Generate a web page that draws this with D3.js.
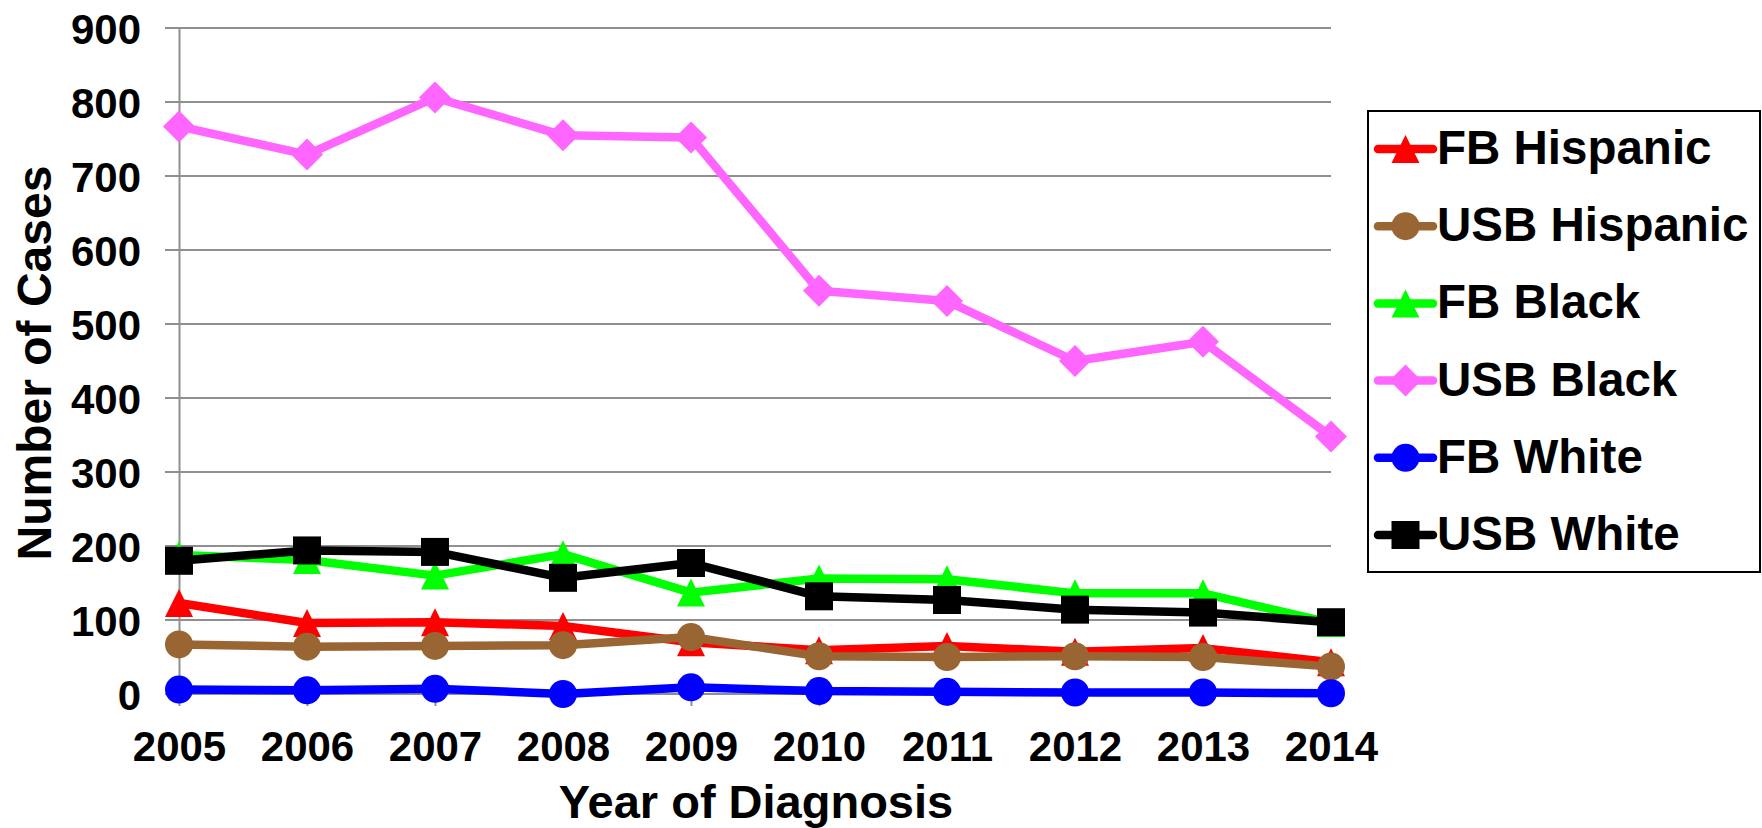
<!DOCTYPE html>
<html>
<head>
<meta charset="utf-8">
<script src="https://cdn.jsdelivr.net/npm/d3@7"></script>
<style>
  html, body { margin: 0; padding: 0; background: #fff; }
  svg { display: block; }
  text { font-family: "Liberation Sans", Arial, sans-serif; font-weight: bold; fill: #000; }
</style>
</head>
<body>
<svg id="chart" width="1762" height="828"></svg>
<script>
const years = ["2005","2006","2007","2008","2009","2010","2011","2012","2013","2014"];
const yTicks = [0,100,200,300,400,500,600,700,800,900];

const seriesNames = ["FB Hispanic","USB Hispanic","FB Black","USB Black","FB White","USB White"];
const fbHispanic  = [123, 96, 97, 92, 70, 59, 65, 57, 62, 43];
const usbHispanic = [67, 64, 65, 66, 77, 51, 50, 51, 50, 37];
const fbBlack     = [188, 181, 160, 189, 137, 156, 155, 136, 136, 96];
const usbBlack    = [767, 729, 806, 755, 752, 545, 531, 450, 476, 348];
const fbWhite     = [6, 5, 7, 0, 9, 4, 3, 2, 2, 1];
const usbWhite    = [180, 194, 192, 157, 177, 132, 127, 114, 110, 97];
const seriesValues = [fbHispanic, usbHispanic, fbBlack, usbBlack, fbWhite, usbWhite];
const seriesColors = ["#FF0000","#996633","#00FF00","#FF66FF","#0000FF","#000000"];
const seriesMarkers = ["triangle","circle","triangle","diamond","circle","square"];

const svg = d3.select("#chart");

const x = d3.scalePoint().domain(years).range([179, 1331]);
const y = d3.scaleLinear().domain([0, 900]).range([694, 28]);

// gridlines
svg.append("g").selectAll("line").data(yTicks).join("line")
  .attr("x1", 165).attr("x2", x(years[years.length-1]))
  .attr("y1", d => y(d)).attr("y2", d => y(d))
  .attr("stroke", "#8f8f8f").attr("stroke-width", 2);

// y axis
const yAxis = d3.axisLeft(y).tickValues(yTicks).tickSize(0).tickPadding(38);
const gy = svg.append("g").attr("transform", "translate(179,0)").call(yAxis);
gy.select(".domain").attr("stroke", "#8f8f8f").attr("stroke-width", 2);
gy.selectAll("text").style("font-size", "42px").attr("dy", "0.36em");

// x axis
const xAxis = d3.axisBottom(x).tickSize(12).tickPadding(25);
const gx = svg.append("g").attr("transform", "translate(0,694)").call(xAxis);
gx.select(".domain").remove();
gx.selectAll(".tick line").attr("stroke", "#8f8f8f").attr("stroke-width", 2);
gx.selectAll("text").style("font-size", "42px").attr("dy", "0.71em");

// axis titles
svg.append("text").attr("x", 756).attr("y", 818)
  .attr("text-anchor", "middle").style("font-size", "47px").text("Year of Diagnosis");
svg.append("text").attr("transform", "translate(51,363) rotate(-90)")
  .attr("text-anchor", "middle").style("font-size", "48px").text("Number of Cases");

function markerPath(type) {
  const s = 28;
  if (type === "triangle") return `M0,${-s/2}L${s/2},${s/2}L${-s/2},${s/2}Z`;
  if (type === "square") return `M${-s/2},${-s/2}H${s/2}V${s/2}H${-s/2}Z`;
  if (type === "diamond") { const d = 16; return `M0,${-d}L${d},0L0,${d}L${-d},0Z`; }
  return d3.symbol().type(d3.symbolCircle).size(Math.PI * 14 * 14)();
}

const line = d3.line().x((d, i) => x(years[i])).y(d => y(d));

seriesValues.forEach((vals, k) => {
  const g = svg.append("g");
  g.append("path").datum(vals).attr("d", line)
    .attr("fill", "none").attr("stroke", seriesColors[k]).attr("stroke-width", 8.5)
    .attr("stroke-linejoin", "round").attr("stroke-linecap", "round");
  g.selectAll("path.m").data(vals).join("path").attr("class", "m")
    .attr("transform", (d, i) => `translate(${x(years[i])},${y(d)})`)
    .attr("d", markerPath(seriesMarkers[k]))
    .attr("fill", seriesColors[k]);
});

// legend
const lg = svg.append("g");
lg.append("rect").attr("x", 1368).attr("y", 111).attr("width", 392).attr("height", 461)
  .attr("fill", "#fff").attr("stroke", "#000").attr("stroke-width", 2);
seriesNames.forEach((name, k) => {
  const cy = 149 + k * 77.2;
  lg.append("line").attr("x1", 1378).attr("x2", 1433).attr("y1", cy).attr("y2", cy)
    .attr("stroke", seriesColors[k]).attr("stroke-width", 8.5).attr("stroke-linecap", "round");
  lg.append("path").attr("transform", `translate(1405.5,${cy})`)
    .attr("d", markerPath(seriesMarkers[k])).attr("fill", seriesColors[k]);
  lg.append("text").attr("x", 1437).attr("y", cy + 15).style("font-size", "47.5px").text(name);
});
</script>
</body>
</html>
